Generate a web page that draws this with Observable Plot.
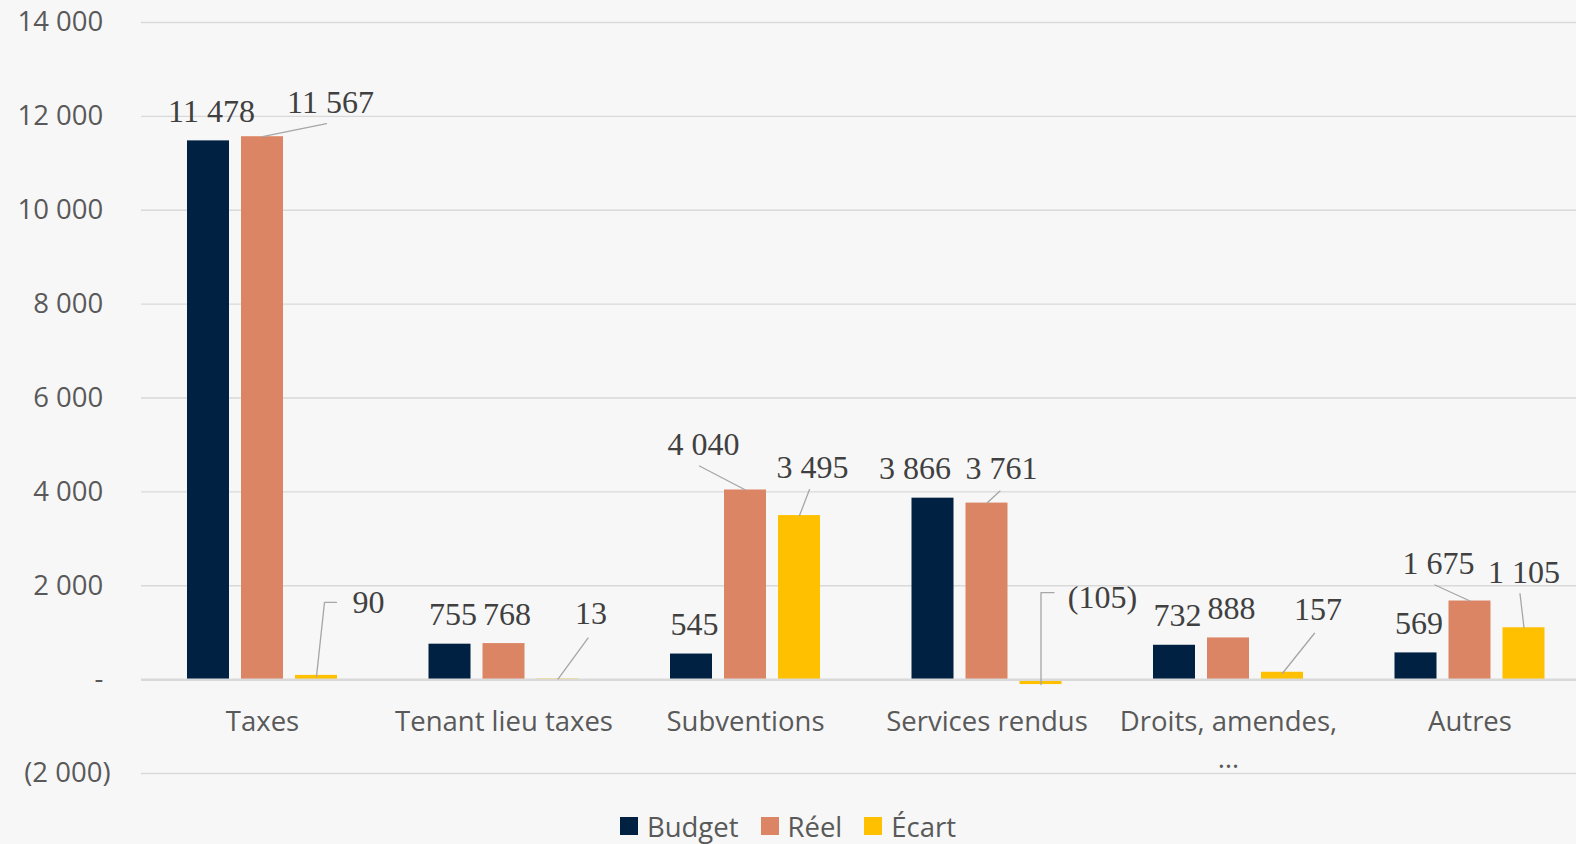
<!DOCTYPE html>
<html>
<head>
<meta charset="utf-8">
<script src="https://cdn.jsdelivr.net/npm/d3@7"></script>
<script src="https://cdn.jsdelivr.net/npm/@observablehq/plot@0.6"></script>
<style>
  html, body { margin: 0; padding: 0; background: #f7f7f7; overflow: hidden; }
  #chart svg { display: block; background: #f7f7f7; }
  #legend { display: flex; justify-content: center; align-items: center; height: 40px; margin-top: 11px;
            font-family: "Open Sans", sans-serif; font-size: 27.5px; color: #595959; }
  #legend .item { display: flex; align-items: center; margin: 0 11px; }
  #legend .sw { width: 18px; height: 18px; margin-right: 9px; }
</style>
</head>
<body>
<div id="chart"></div>
<div id="legend"></div>
<script>
// ---- data ----
const categories = ["Taxes", "Tenant lieu taxes", "Subventions", "Services rendus", "Droits, amendes,\n…", "Autres"];
const series = ["Budget", "Réel", "Écart"];
const budget = [11478, 755, 545, 3866, 732, 569];
const reel = [11567, 768, 4040, 3761, 888, 1675];
const ecart = [90, 13, 3495, -105, 157, 1105];
const yTicks = [-2000, 0, 2000, 4000, 6000, 8000, 10000, 12000, 14000];
const colors = ["#012142", "#dc8565", "#ffc000"];

// ---- label placement (pixel nudges, relative to the end of each bar) ----
const defaultLabel = {dx: 3, dy: -19};
const labelNudges = {
  "0|1": {dx: 68, dy: -24, leader: [[0, 0], [64, -13]]},
  "0|2": {dx: 52, dy: -62, leader: [[0, 1], [8, -73], [20, -73]]},
  "1|2": {dx: 33, dy: -55, leader: [[0, 0], [30, -41]]},
  "2|1": {dx: -42, dy: -35, leader: [[0, 0], [-46, -24]]},
  "2|2": {dx: 13, dy: -38, leader: [[0, 0], [10, -26]]},
  "3|0": {dx: -18, dy: -19.5},
  "3|1": {dx: 14.5, dy: -24.5, leader: [[0, 0], [13, -12]]},
  "3|2": {dx: 61.5, dy: -77, leader: [[0, 0], [0, -92], [13, -92]]},
  "4|2": {dx: 35.5, dy: -52, leader: [[0, 1], [32, -39]]},
  "5|1": {dx: -31.5, dy: -27.5, leader: [[0, 0], [-35, -16]]},
  "5|2": {dx: 0, dy: -45, leader: [[0, 0], [-4, -34]]}
};

// ---- layout ----
const W = 1576, H = 795, mT = 22, mB = 22, mL = 141;
const xRange = [141.25, 1590.25];
const step = (xRange[1] - xRange[0]) / categories.length;
const barStep = 54, barW = 42;
const yDomain = [-2000, 14000];
const ux = 1 / step;                                   // x units per pixel
const uy = (yDomain[1] - yDomain[0]) / (H - mT - mB);  // y units per pixel

const values = [budget, reel, ecart];
const rows = [];
categories.forEach((c, i) => series.forEach((s, j) => {
  rows.push({i, j, cat: c, s, v: values[j][i], xc: i + (j - 1) * barStep / step});
}));

const fmtNum = v => {
  const t = d3.format(",")(Math.abs(v)).replace(/,/g, " ");
  return v < 0 ? "(" + t + ")" : t;
};
const nudge = d => labelNudges[d.i + "|" + d.j] || defaultLabel;

const leaderPts = [];
rows.forEach(d => {
  const n = labelNudges[d.i + "|" + d.j];
  if (n && n.leader) n.leader.forEach(([px, py]) => {
    leaderPts.push({key: d.i + "|" + d.j, x: d.xc + px * ux, y: d.v - py * uy});
  });
});

const yFmt = v => v === 0 ? "-\u2008" : v < 0 ? "(" + d3.format(",")(-v).replace(/,/g, " ") + ")" : d3.format(",")(v).replace(/,/g, " ") + "\u2008";

const chart = Plot.plot({
  width: W, height: H,
  marginTop: mT, marginBottom: mB, marginLeft: mL, marginRight: 0,
  style: {fontFamily: "'Open Sans', sans-serif", fontSize: "27.5px", color: "#595959", background: "#f7f7f7"},
  x: {domain: [-0.5, categories.length - 0.5], range: xRange, axis: null},
  y: {domain: yDomain, ticks: yTicks, tickFormat: yFmt, tickSize: 0, tickPadding: 31, label: null},
  color: {domain: series, range: colors},
  marks: [
    Plot.ruleY(yTicks.filter(t => t !== 0), {stroke: "#d9d9d9", strokeWidth: 1.3}),
    Plot.rect(rows, {
      x1: d => d.xc - barW / 2 * ux, x2: d => d.xc + barW / 2 * ux,
      y1: 0, y2: "v", fill: "s"
    }),
    Plot.ruleY([0], {stroke: "#d9d9d9", strokeWidth: 2.5}),
    Plot.line(leaderPts, {x: "x", y: "y", z: "key", stroke: "#a6a6a6", strokeWidth: 1.3}),
    Plot.text(rows, {
      x: d => d.xc + nudge(d).dx * ux,
      y: d => d.v - nudge(d).dy * uy,
      text: d => fmtNum(d.v),
      lineAnchor: "bottom",
      fontFamily: "'Liberation Serif', 'Times New Roman', serif",
      fontSize: 32, fill: "#404040"
    }),
    Plot.text(categories, {
      x: (d, i) => i, frameAnchor: "bottom", dy: -69,
      lineAnchor: "top", lineHeight: 1.345,
      fontSize: 27.5, fill: "#595959"
    })
  ]
});
document.getElementById("chart").appendChild(chart);

const legend = document.getElementById("legend");
series.forEach((s, j) => {
  const it = document.createElement("div");
  it.className = "item";
  it.innerHTML = `<span class="sw" style="background:${colors[j]}"></span><span>${s}</span>`;
  legend.appendChild(it);
});
</script>
</body>
</html>
